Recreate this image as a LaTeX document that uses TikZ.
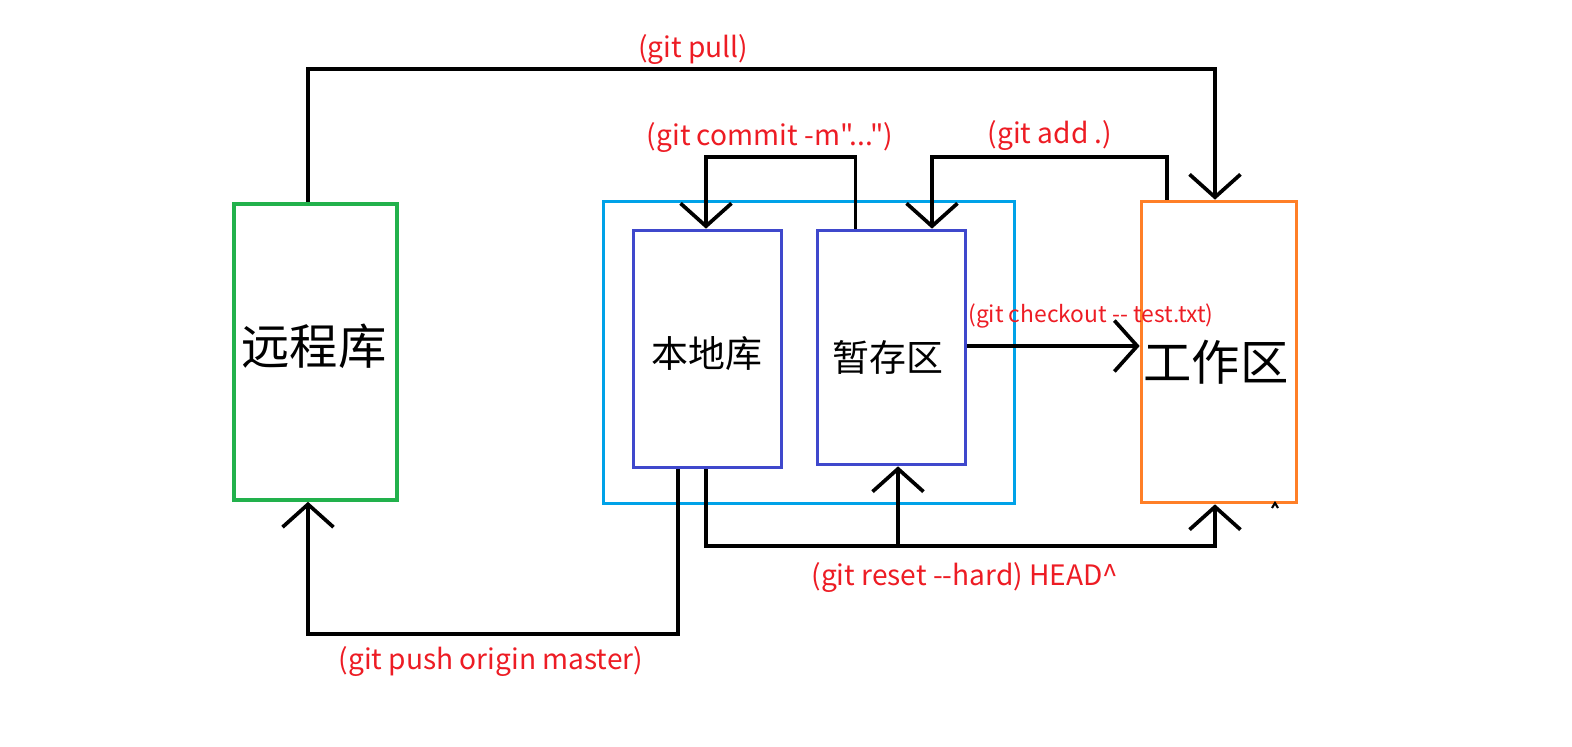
\documentclass[tikz,border=0pt]{standalone}
\usepackage{fontspec}
\setmainfont{Noto Sans CJK SC}
\newfontfamily\cmdfont{Noto Sans CJK SC}
\usetikzlibrary{arrows.meta,calc}

\definecolor{paintgreen}{RGB}{34,177,76}
\definecolor{paintcyan}{RGB}{0,162,232}
\definecolor{paintblue}{RGB}{63,72,204}
\definecolor{paintorange}{RGB}{255,127,39}
\definecolor{paintred}{RGB}{237,28,36}

\tikzset{
    area/.style={draw, line width=2.1pt, inner sep=0pt},
    link/.style={black, line width=2.1pt, -{Straight Barb[length=13pt,width=29pt]}},
    cmd/.style={text=paintred, font=\cmdfont\fontsize{16}{18}\selectfont, inner sep=0pt}
}

\begin{document}
\begin{tikzpicture}[x=0.02cm,y=-0.02cm]
            \useasboundingbox (0,0) rectangle (1572,747);
            % the four areas
            \node [area, paintgreen, minimum width=3.26cm, minimum height=5.92cm] (remote) at (315.5,352) {};
            \node [font=\fontsize{27.5}{30}\selectfont] at (314,346) {远程库};
            \node [area, paintcyan, minimum width=8.22cm, minimum height=6.04cm] (local) at (809,352.5) {};
            \node [area, paintblue, minimum width=2.96cm, minimum height=4.74cm] (repo) at (707.5,349) {};
            \node [font=\fontsize{21}{24}\selectfont] at (707,354) {本地库};
            \node [area, paintblue, minimum width=2.96cm, minimum height=4.68cm] (stage) at (891.5,347.5) {};
            \node [font=\fontsize{21}{24}\selectfont] at (888,357) {暂存区};
            \node [area, paintorange, minimum width=3.1cm, minimum height=6.02cm] (work) at (1219,352) {};
            \node [font=\fontsize{27.5}{30}\selectfont] at (1216,362) {工作区};
            % connectors
            \draw [link] (remote.north -| 308,0) |- (1215,69) -- (work.north -| 1215,0);
            \node [cmd] (pull) at (693,50) {(git pull)};
            \draw [link] ($(stage.north)+(-36,0)$) |- (706,157) -- (repo.north -| 706,0);
            \node [cmd] (commit) at (770,138) {(git commit -m"...")};
            \draw [link] (work.north -| 1167,0) |- (932,157) -- (stage.north -| 932,0);
            \node [cmd] (add) at (1050,136) {(git add .)};
            \draw [link] (stage.east |- 0,346) -- (work.west |- 0,346);
            \node [cmd, font=\cmdfont\fontsize{13}{15}\selectfont] (checkout) at (1091,316) {(git checkout -- test.txt)};
            \draw [link] (repo.south -| 706,0) |- (1215,546) -- (work.south -| 1215,0);
            \draw [link] (898,546) -- (stage.south -| 898,0);
            \node [cmd] (reset) at (965,578) {(git reset --hard) HEAD\^{}};
            \draw [link] (repo.south -| 678,0) |- (308,634) -- (remote.south -| 308,0);
            \node [cmd] (push) at (491,662) {(git push origin master)};
            \draw [line width=1.2pt] (1272,508) -- (1275,503) -- (1278,508);
\end{tikzpicture}
\end{document}
